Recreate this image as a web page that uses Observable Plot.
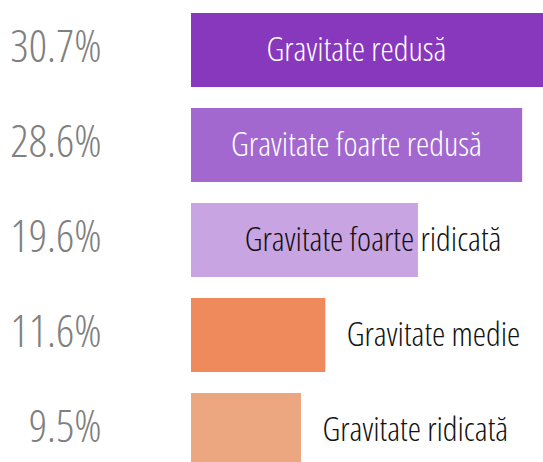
<!DOCTYPE html>
<html>
<head>
<meta charset="utf-8">
<script src="https://cdn.jsdelivr.net/npm/d3@7"></script>
<script src="https://cdn.jsdelivr.net/npm/@observablehq/plot@0.6"></script>
<style>
  html, body { margin: 0; padding: 0; background: #fff; overflow: hidden; }
</style>
</head>
<body>
<div id="chart"></div>
<script>
const categories = ["Gravitate redusă", "Gravitate foarte redusă", "Gravitate foarte ridicată", "Gravitate medie", "Gravitate ridicată"];
const values = [30.7, 28.6, 19.6, 11.6, 9.5];
const colors = ["#8738bd", "#a268cf", "#c8a4e2", "#ee8a5c", "#eda780"];

const data = categories.map((c, i) => ({category: c, value: values[i], color: colors[i]}));

const chart = Plot.plot({
  width: 543,
  height: 462,
  marginLeft: 191,
  marginRight: 0,
  marginTop: 0,
  marginBottom: 0,
  style: {fontFamily: "'Open Sans', sans-serif", fontStretch: "condensed", background: "#fff", overflow: "hidden"},
  x: {domain: [0, 30.4], axis: null},
  y: {domain: categories, range: [11.4, 469], paddingInner: 0.222, paddingOuter: 0, axis: null},
  marks: [
    Plot.barX(data, {y: "category", x: "value", fill: "color"}),
    Plot.text(data, {
      y: "category", frameAnchor: "left", dx: -90, textAnchor: "end",
      text: d => d.value.toFixed(1) + "%", fill: "#808080", fontSize: 45, fontWeight: 300, dy: -3
    }),
    // labels inside the long bars
    Plot.text(data.filter(d => d.value >= 25), {
      y: "category", frameAnchor: "middle", dx: -11, text: "category",
      fill: "white", fontSize: 33.5, fontWeight: 350, textAnchor: "middle"
    }),
    // label straddling the middle bar
    Plot.text(data.filter(d => d.value >= 15 && d.value < 25), {
      y: "category", x: "value", dx: 83, text: "category",
      fill: "#111", fontSize: 33.5, fontWeight: 350, textAnchor: "end"
    }),
    // labels beside the short bars
    Plot.text(data.filter(d => d.value < 15), {
      y: "category", x: "value", dx: 21, text: "category",
      fill: "#111", fontSize: 33.5, fontWeight: 350, textAnchor: "start"
    })
  ]
});
document.getElementById("chart").appendChild(chart);
</script>
</body>
</html>
